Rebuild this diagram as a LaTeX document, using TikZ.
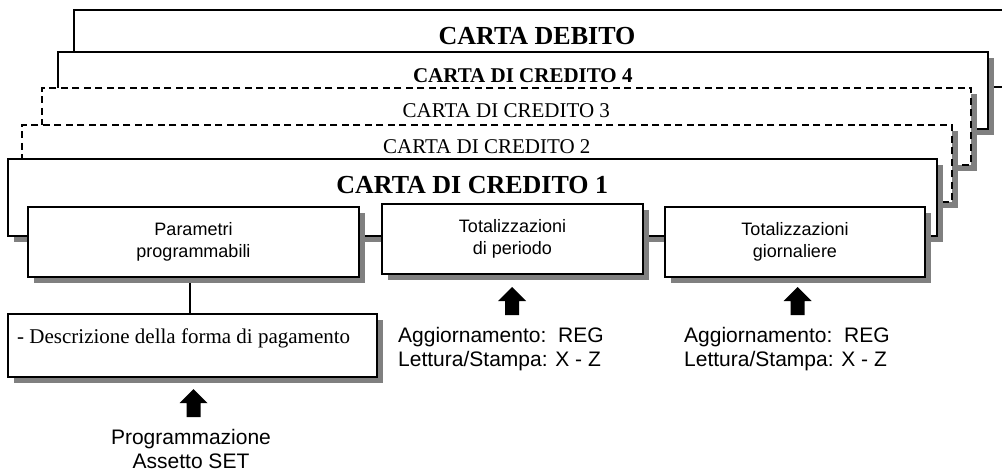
\documentclass[tikz,border=0pt]{standalone}
\usepackage{fontspec}
\setmainfont{Liberation Serif}
\setsansfont{Liberation Sans}
\usetikzlibrary{positioning,shadows,backgrounds}

\begin{document}
\begin{tikzpicture}[
  x=1pt,y=-1pt,
  shadowed/.style={drop shadow={shadow xshift=6pt,shadow yshift=-6pt,fill=black!50,opacity=1}},
  card/.style={rectangle,draw,line width=1.6pt,fill=white,anchor=north west,inner sep=0pt,minimum height=77pt},
  cardline/.style={card,dash pattern=on 7pt off 4.5pt},
  cardtitle/.style={anchor=base,inner sep=0pt,font=\fontsize{21}{24}\selectfont},
  box/.style={rectangle,draw,line width=2pt,fill=white,anchor=north west,inner sep=0pt,minimum height=70pt,align=center,font=\sffamily\fontsize{18}{22}\selectfont,shadowed},
  note/.style={anchor=base west,inner sep=0pt,align=left,font=\sffamily\fontsize{21}{24}\selectfont},
  uparrow/.pic={\fill (0,0) -- (14,14) -- (7,14) -- (7,28) -- (-7,28) -- (-7,14) -- (-14,14) -- cycle;}
]
  \useasboundingbox (0,0) rectangle (1002,471);

  \node[card,minimum width=940pt] (debito) at (73,9) {};
  \node[card,shadowed,minimum width=930pt] (c4) at (57,51) {};
  \node[cardline,shadowed,minimum width=929pt] (c3) at (41,87) {};
  \node[cardline,shadowed,minimum width=930pt] (c2) at (21,124) {};
  \node[card,shadowed,minimum width=929pt] (c1) at (7,158) {};

  \node[cardtitle,font=\fontsize{26}{30}\selectfont\bfseries] (tdebito) at (537,45) {CARTA DEBITO};
  \node[cardtitle,font=\fontsize{21}{24}\selectfont\bfseries] (t4) at ([yshift=-31pt]c4.north) {CARTA DI CREDITO 4};
  \node[cardtitle] (t3) at ([yshift=-30pt]c3.north) {CARTA DI CREDITO 3};
  \node[cardtitle] (t2) at ([yshift=-29pt]c2.north) {CARTA DI CREDITO 2};
  \node[cardtitle,font=\fontsize{26}{30}\selectfont\bfseries] (t1) at ([yshift=-35pt]c1.north) {CARTA DI CREDITO 1};

  \node[box,minimum width=331pt] (para) at (27,206) {Parametri\\programmabili};
  \node[box,minimum width=261pt] (periodo) at (381,203) {Totalizzazioni\\di periodo};
  \node[box,minimum width=260pt] (giorn) at (664,206) {Totalizzazioni\\giornaliere};
  \node[box,minimum width=369pt,minimum height=63pt] (desc) at (7,313) {};
  \node[anchor=base west,inner sep=0pt,font=\fontsize{21}{24}\selectfont] (desctext) at ([shift={(10pt,-30pt)}]desc.north west) {- Descrizione della forma di pagamento};

  \begin{scope}[on background layer]
    \draw[line width=2pt] ([xshift=-4pt]para.south) -- ([xshift=-4pt]para.south |- desc.north);
  \end{scope}

  \pic (up1) at (193.5,389) {uparrow};
  \pic (up2) at (512,287) {uparrow};
  \pic (up3) at (797.5,287) {uparrow};

  \node[note,anchor=base,align=center] (prog) at (191,468) {Programmazione\\Assetto SET};
  \node[note] (agg1) at (398,366) {Aggiornamento:\ \ REG\\Lettura/Stampa: X - Z};
  \node[note] (agg2) at (684,366) {Aggiornamento:\ \ REG\\Lettura/Stampa: X - Z};
\end{tikzpicture}
\end{document}
